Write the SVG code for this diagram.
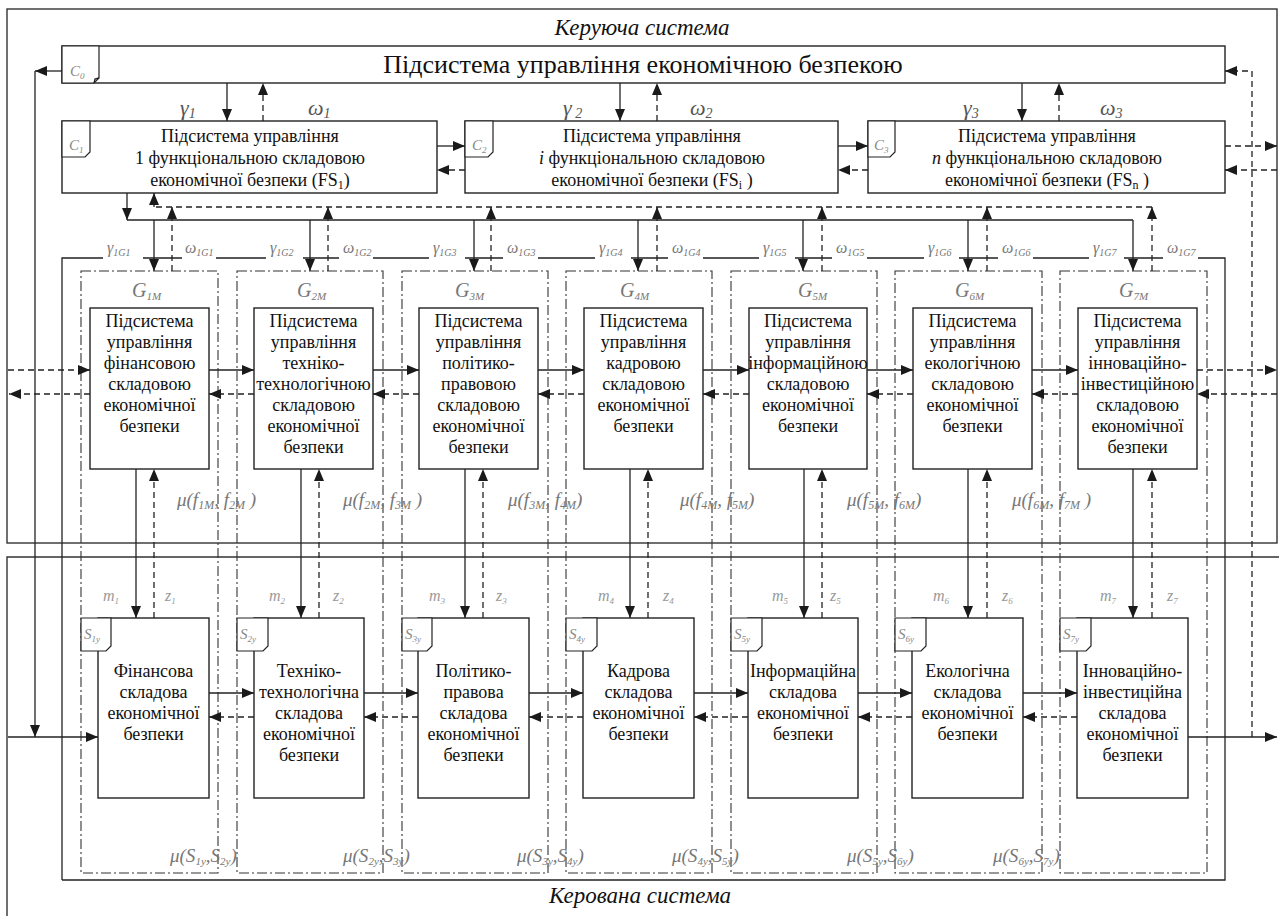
<svg xmlns="http://www.w3.org/2000/svg" width="1279" height="916" viewBox="0 0 1279 916">
<defs>
<marker id="ah" viewBox="0 0 12 10" refX="12" refY="5" markerWidth="12" markerHeight="10" markerUnits="userSpaceOnUse" orient="auto"><path d="M0,0 L12,5 L0,10 Z" fill="#1a1a1a"/></marker>
<style>
.fr{fill:none;stroke:#333;stroke-width:1.4}
.bx{fill:#fff;stroke:#222;stroke-width:1.4}
.tab{fill:#fff;stroke:#222;stroke-width:1.2}
.ln{fill:none;stroke:#222;stroke-width:1.3}
.ds{fill:none;stroke:#222;stroke-width:1.3;stroke-dasharray:6 4}
.dd{fill:none;stroke:#333;stroke-width:1.1;stroke-dasharray:10 3 2 3}
.arr{marker-end:url(#ah)}
.t{font-family:"Liberation Serif","Times New Roman",serif;font-size:18px;fill:#111;text-anchor:middle}
.ttl{font-family:"Liberation Serif","Times New Roman",serif;font-size:26px;fill:#111;text-anchor:middle}
.ti{font-family:"Liberation Serif","Times New Roman",serif;font-style:italic;font-size:23px;fill:#111;text-anchor:middle}
.gk{font-family:"Liberation Serif","Times New Roman",serif;font-style:italic;fill:#555;font-size:22px}
.gs{font-family:"Liberation Serif","Times New Roman",serif;font-style:italic;fill:#777;font-size:16px}
.cl{font-family:"Liberation Serif","Times New Roman",serif;font-style:italic;fill:#888;font-size:15px}
.gm{font-family:"Liberation Serif","Times New Roman",serif;font-style:italic;fill:#777;font-size:20px}
.mz{font-family:"Liberation Serif","Times New Roman",serif;font-style:italic;fill:#999;font-size:16px}
.mu{font-family:"Liberation Serif","Times New Roman",serif;font-style:italic;fill:#777;font-size:19px}
</style>
</defs>

<g id="frames">
<rect class="fr" x="7" y="9" width="1270" height="534"/>
<path class="fr" d="M7,916 V557 H1279"/>
<text class="ti" x="642" y="35">Керуюча система</text>
<text class="ti" x="640" y="903">Керована система</text>
<path class="ln" d="M62,880 V258 H103 M143,258 H182 M216,258 H266 M303,258 H339 M373,258 H429 M465,258 H503 M538,258 H595 M631,258 H668 M703,258 H759 M795,258 H832 M867,258 H924 M959,258 H998 M1033,258 H1089 M1124,258 H1163 M1198,258 H1225 V880 H62"/>
</g>

<g id="C0">
<rect class="bx" x="62" y="46" width="1163" height="37"/>
<path class="tab" d="M62,46 H99 V78 L94,83 H62 Z"/>
<path class="ln" d="M94,83 L95,79 L99,78" stroke-width="1"/>
<text class="cl" x="70" y="76">C<tspan dy="3" font-size="9">0</tspan></text>
<text class="ttl" x="643" y="73">Підсистема управління економічною безпекою</text>
</g>

<g id="C1">
<rect class="bx" x="62" y="121" width="375" height="72"/>
<path class="tab" d="M62,121 H90 V152 L85,157 H62 Z"/>
<text class="cl" x="69" y="150">C<tspan dy="3" font-size="9">1</tspan></text>
<text class="t" x="250" y="142">Підсистема управління</text>
<text class="t" x="250" y="164">1 функціональною складовою</text>
<text class="t" x="250" y="186">економічної безпеки (FS<tspan dy="3" font-size="12">1</tspan><tspan dy="-3">)</tspan></text>
</g>

<g id="C2">
<rect class="bx" x="465" y="121" width="373" height="72"/>
<path class="tab" d="M465,121 H493 V152 L488,157 H465 Z"/>
<text class="cl" x="472" y="150">C<tspan dy="3" font-size="9">2</tspan></text>
<text class="t" x="652" y="142">Підсистема управління</text>
<text class="t" x="652" y="164"><tspan font-style="italic">i</tspan> функціональною складовою</text>
<text class="t" x="652" y="186">економічної безпеки (FS<tspan dy="3" font-size="12">i</tspan><tspan dy="-3"> )</tspan></text>
</g>

<g id="C3">
<rect class="bx" x="868" y="121" width="357" height="72"/>
<path class="tab" d="M868,121 H895 V152 L890,157 H868 Z"/>
<text class="cl" x="874" y="150">C<tspan dy="3" font-size="9">3</tspan></text>
<text class="t" x="1047" y="142">Підсистема управління</text>
<text class="t" x="1047" y="164"><tspan font-style="italic">n</tspan> функціональною складовою</text>
<text class="t" x="1047" y="186">економічної безпеки (FS<tspan dy="3" font-size="12">n</tspan><tspan dy="-3"> )</tspan></text>
</g>

<g id="labels-top">
<text class="gk" x="180" y="115">γ<tspan dy="3" font-size="14">1</tspan></text>
<text class="gk" x="308" y="115">ω<tspan dy="3" font-size="14">1</tspan></text>
<text class="gk" x="563" y="115">γ<tspan dy="3" font-size="14"> 2</tspan></text>
<text class="gk" x="690" y="115">ω<tspan dy="3" font-size="14">2</tspan></text>
<text class="gk" x="963" y="115">γ<tspan dy="3" font-size="14">3</tspan></text>
<text class="gk" x="1100" y="115">ω<tspan dy="3" font-size="14">3</tspan></text>
<text class="gs" x="107" y="253">γ<tspan dy="3" font-size="10">1G1</tspan></text>
<text class="gs" x="185" y="253">ω<tspan dy="3" font-size="10">1G1</tspan></text>
<text class="gs" x="270" y="253">γ<tspan dy="3" font-size="10">1G2</tspan></text>
<text class="gs" x="343" y="253">ω<tspan dy="3" font-size="10">1G2</tspan></text>
<text class="gs" x="433" y="253">γ<tspan dy="3" font-size="10">1G3</tspan></text>
<text class="gs" x="507" y="253">ω<tspan dy="3" font-size="10">1G3</tspan></text>
<text class="gs" x="599" y="253">γ<tspan dy="3" font-size="10">1G4</tspan></text>
<text class="gs" x="672" y="253">ω<tspan dy="3" font-size="10">1G4</tspan></text>
<text class="gs" x="763" y="253">γ<tspan dy="3" font-size="10">1G5</tspan></text>
<text class="gs" x="836" y="253">ω<tspan dy="3" font-size="10">1G5</tspan></text>
<text class="gs" x="928" y="253">γ<tspan dy="3" font-size="10">1G6</tspan></text>
<text class="gs" x="1002" y="253">ω<tspan dy="3" font-size="10">1G6</tspan></text>
<text class="gs" x="1093" y="253">γ<tspan dy="3" font-size="10">1G7</tspan></text>
<text class="gs" x="1167" y="253">ω<tspan dy="3" font-size="10">1G7</tspan></text>
</g>

<g id="G1"><rect class="dd" x="81" y="271" width="137" height="602"/><text class="gm" x="132" y="297">G<tspan dy="3" font-size="11">1M</tspan></text></g>
<g id="G2"><rect class="dd" x="237" y="271" width="146" height="602"/><text class="gm" x="297" y="297">G<tspan dy="3" font-size="11">2M</tspan></text></g>
<g id="G3"><rect class="dd" x="402" y="271" width="146" height="602"/><text class="gm" x="455" y="297">G<tspan dy="3" font-size="11">3M</tspan></text></g>
<g id="G4"><rect class="dd" x="566" y="271" width="146" height="602"/><text class="gm" x="620" y="297">G<tspan dy="3" font-size="11">4M</tspan></text></g>
<g id="G5"><rect class="dd" x="731" y="271" width="146" height="602"/><text class="gm" x="798" y="297">G<tspan dy="3" font-size="11">5M</tspan></text></g>
<g id="G6"><rect class="dd" x="895" y="271" width="147" height="602"/><text class="gm" x="955" y="297">G<tspan dy="3" font-size="11">6M</tspan></text></g>
<g id="G7"><rect class="dd" x="1060" y="271" width="147" height="602"/><text class="gm" x="1119" y="297">G<tspan dy="3" font-size="11">7M</tspan></text></g>

<g id="M1"><rect class="bx" x="90" y="308" width="119" height="161"/>
<text class="t" y="327"><tspan x="149.5">Підсистема</tspan><tspan x="149.5" dy="21">управління</tspan><tspan x="149.5" dy="21">фінансовою</tspan><tspan x="149.5" dy="21">складовою</tspan><tspan x="149.5" dy="21">економічної</tspan><tspan x="149.5" dy="21">безпеки</tspan></text></g>
<g id="M2"><rect class="bx" x="254" y="308" width="119" height="161"/>
<text class="t" y="327"><tspan x="313.5">Підсистема</tspan><tspan x="313.5" dy="21">управління</tspan><tspan x="313.5" dy="21">техніко-</tspan><tspan x="313.5" dy="21">технологічною</tspan><tspan x="313.5" dy="21">складовою</tspan><tspan x="313.5" dy="21">економічної</tspan><tspan x="313.5" dy="21">безпеки</tspan></text></g>
<g id="M3"><rect class="bx" x="419" y="308" width="119" height="161"/>
<text class="t" y="327"><tspan x="478.5">Підсистема</tspan><tspan x="478.5" dy="21">управління</tspan><tspan x="478.5" dy="21">політико-</tspan><tspan x="478.5" dy="21">правовою</tspan><tspan x="478.5" dy="21">складовою</tspan><tspan x="478.5" dy="21">економічної</tspan><tspan x="478.5" dy="21">безпеки</tspan></text></g>
<g id="M4"><rect class="bx" x="584" y="308" width="119" height="161"/>
<text class="t" y="327"><tspan x="643.5">Підсистема</tspan><tspan x="643.5" dy="21">управління</tspan><tspan x="643.5" dy="21">кадровою</tspan><tspan x="643.5" dy="21">складовою</tspan><tspan x="643.5" dy="21">економічної</tspan><tspan x="643.5" dy="21">безпеки</tspan></text></g>
<g id="M5"><rect class="bx" x="749" y="308" width="118" height="161"/>
<text class="t" y="327"><tspan x="808">Підсистема</tspan><tspan x="808" dy="21">управління</tspan><tspan x="808" dy="21">інформаційною</tspan><tspan x="808" dy="21">складовою</tspan><tspan x="808" dy="21">економічної</tspan><tspan x="808" dy="21">безпеки</tspan></text></g>
<g id="M6"><rect class="bx" x="913" y="308" width="119" height="161"/>
<text class="t" y="327"><tspan x="972.5">Підсистема</tspan><tspan x="972.5" dy="21">управління</tspan><tspan x="972.5" dy="21">екологічною</tspan><tspan x="972.5" dy="21">складовою</tspan><tspan x="972.5" dy="21">економічної</tspan><tspan x="972.5" dy="21">безпеки</tspan></text></g>
<g id="M7"><rect class="bx" x="1078" y="308" width="119" height="161"/>
<text class="t" y="327"><tspan x="1137.5">Підсистема</tspan><tspan x="1137.5" dy="21">управління</tspan><tspan x="1137.5" dy="21">інноваційно-</tspan><tspan x="1137.5" dy="21">інвестиційною</tspan><tspan x="1137.5" dy="21">складовою</tspan><tspan x="1137.5" dy="21">економічної</tspan><tspan x="1137.5" dy="21">безпеки</tspan></text></g>

<g id="mu-f">
<text class="mu" x="177" y="506">μ(f<tspan dy="3" font-size="12">1M</tspan><tspan dy="-3">, f</tspan><tspan dy="3" font-size="12">2M</tspan><tspan dy="-3"> )</tspan></text>
<text class="mu" x="343" y="506">μ(f<tspan dy="3" font-size="12">2M</tspan><tspan dy="-3">, f</tspan><tspan dy="3" font-size="12">3M</tspan><tspan dy="-3"> )</tspan></text>
<text class="mu" x="508" y="506">μ(f<tspan dy="3" font-size="12">3M</tspan><tspan dy="-3">, f</tspan><tspan dy="3" font-size="12">4M</tspan><tspan dy="-3">)</tspan></text>
<text class="mu" x="680" y="506">μ(f<tspan dy="3" font-size="12">4M</tspan><tspan dy="-3">, f</tspan><tspan dy="3" font-size="12">5M</tspan><tspan dy="-3">)</tspan></text>
<text class="mu" x="847" y="506">μ(f<tspan dy="3" font-size="12">5M</tspan><tspan dy="-3">, f</tspan><tspan dy="3" font-size="12">6M</tspan><tspan dy="-3">)</tspan></text>
<text class="mu" x="1012" y="506">μ(f<tspan dy="3" font-size="12">6M</tspan><tspan dy="-3">, f</tspan><tspan dy="3" font-size="12">7M</tspan><tspan dy="-3"> )</tspan></text>
</g>

<g id="mz">
<text class="mz" x="103" y="601">m<tspan dy="3" font-size="9">1</tspan></text>
<text class="mz" x="165" y="601">z<tspan dy="3" font-size="9">1</tspan></text>
<text class="mz" x="269" y="601">m<tspan dy="3" font-size="9">2</tspan></text>
<text class="mz" x="333" y="601">z<tspan dy="3" font-size="9">2</tspan></text>
<text class="mz" x="429" y="601">m<tspan dy="3" font-size="9">3</tspan></text>
<text class="mz" x="496" y="601">z<tspan dy="3" font-size="9">3</tspan></text>
<text class="mz" x="598" y="601">m<tspan dy="3" font-size="9">4</tspan></text>
<text class="mz" x="663" y="601">z<tspan dy="3" font-size="9">4</tspan></text>
<text class="mz" x="772" y="601">m<tspan dy="3" font-size="9">5</tspan></text>
<text class="mz" x="830" y="601">z<tspan dy="3" font-size="9">5</tspan></text>
<text class="mz" x="933" y="601">m<tspan dy="3" font-size="9">6</tspan></text>
<text class="mz" x="1002" y="601">z<tspan dy="3" font-size="9">6</tspan></text>
<text class="mz" x="1100" y="601">m<tspan dy="3" font-size="9">7</tspan></text>
<text class="mz" x="1167" y="601">z<tspan dy="3" font-size="9">7</tspan></text>
</g>

<g id="S1"><rect class="bx" x="98" y="618" width="111" height="180"/><path class="tab" d="M81,618 H111 V646 L106,651 H81 Z"/><text class="cl" x="84" y="639" font-size="17">S<tspan dy="3" font-size="9">1y</tspan></text>
<text class="t" y="677"><tspan x="153.5">Фінансова</tspan><tspan x="153.5" dy="21">складова</tspan><tspan x="153.5" dy="21">економічної</tspan><tspan x="153.5" dy="21">безпеки</tspan></text></g>
<g id="S2"><rect class="bx" x="254" y="618" width="110" height="180"/><path class="tab" d="M237,618 H268 V646 L263,651 H237 Z"/><text class="cl" x="240" y="639" font-size="17">S<tspan dy="3" font-size="9">2y</tspan></text>
<text class="t" y="677"><tspan x="309">Техніко-</tspan><tspan x="309" dy="21">технологічна</tspan><tspan x="309" dy="21">складова</tspan><tspan x="309" dy="21">економічної</tspan><tspan x="309" dy="21">безпеки</tspan></text></g>
<g id="S3"><rect class="bx" x="418" y="618" width="111" height="180"/><path class="tab" d="M402,618 H432 V646 L427,651 H402 Z"/><text class="cl" x="405" y="639" font-size="17">S<tspan dy="3" font-size="9">3y</tspan></text>
<text class="t" y="677"><tspan x="473.5">Політико-</tspan><tspan x="473.5" dy="21">правова</tspan><tspan x="473.5" dy="21">складова</tspan><tspan x="473.5" dy="21">економічної</tspan><tspan x="473.5" dy="21">безпеки</tspan></text></g>
<g id="S4"><rect class="bx" x="583" y="618" width="111" height="180"/><path class="tab" d="M566,618 H597 V646 L592,651 H566 Z"/><text class="cl" x="569" y="639" font-size="17">S<tspan dy="3" font-size="9">4y</tspan></text>
<text class="t" y="677"><tspan x="638.5">Кадрова</tspan><tspan x="638.5" dy="21">складова</tspan><tspan x="638.5" dy="21">економічної</tspan><tspan x="638.5" dy="21">безпеки</tspan></text></g>
<g id="S5"><rect class="bx" x="748" y="618" width="110" height="180"/><path class="tab" d="M731,618 H762 V646 L757,651 H731 Z"/><text class="cl" x="734" y="639" font-size="17">S<tspan dy="3" font-size="9">5y</tspan></text>
<text class="t" y="677"><tspan x="803">Інформаційна</tspan><tspan x="803" dy="21">складова</tspan><tspan x="803" dy="21">економічної</tspan><tspan x="803" dy="21">безпеки</tspan></text></g>
<g id="S6"><rect class="bx" x="912" y="618" width="111" height="180"/><path class="tab" d="M895,618 H926 V646 L921,651 H895 Z"/><text class="cl" x="898" y="639" font-size="17">S<tspan dy="3" font-size="9">6y</tspan></text>
<text class="t" y="677"><tspan x="967.5">Екологічна</tspan><tspan x="967.5" dy="21">складова</tspan><tspan x="967.5" dy="21">економічної</tspan><tspan x="967.5" dy="21">безпеки</tspan></text></g>
<g id="S7"><rect class="bx" x="1077" y="618" width="111" height="180"/><path class="tab" d="M1060,618 H1091 V646 L1086,651 H1060 Z"/><text class="cl" x="1063" y="639" font-size="17">S<tspan dy="3" font-size="9">7y</tspan></text>
<text class="t" y="677"><tspan x="1132.5">Інноваційно-</tspan><tspan x="1132.5" dy="21">інвестиційна</tspan><tspan x="1132.5" dy="21">складова</tspan><tspan x="1132.5" dy="21">економічної</tspan><tspan x="1132.5" dy="21">безпеки</tspan></text></g>

<g id="mu-s">
<text class="mu" x="170" y="862">μ(S<tspan dy="3" font-size="11">1y</tspan><tspan dy="-3">,S</tspan><tspan dy="3" font-size="11">2y</tspan><tspan dy="-3">)</tspan></text>
<text class="mu" x="343" y="862">μ(S<tspan dy="3" font-size="11">2y</tspan><tspan dy="-3">,S</tspan><tspan dy="3" font-size="11">3y</tspan><tspan dy="-3">)</tspan></text>
<text class="mu" x="517" y="862">μ(S<tspan dy="3" font-size="11">3y</tspan><tspan dy="-3">,S</tspan><tspan dy="3" font-size="11">4y</tspan><tspan dy="-3">)</tspan></text>
<text class="mu" x="672" y="862">μ(S<tspan dy="3" font-size="11">4y</tspan><tspan dy="-3">,S</tspan><tspan dy="3" font-size="11">5y</tspan><tspan dy="-3">)</tspan></text>
<text class="mu" x="847" y="862">μ(S<tspan dy="3" font-size="11">5y</tspan><tspan dy="-3">,S</tspan><tspan dy="3" font-size="11">6y</tspan><tspan dy="-3">)</tspan></text>
<text class="mu" x="993" y="862">μ(S<tspan dy="3" font-size="11">6y</tspan><tspan dy="-3">,S</tspan><tspan dy="3" font-size="11">7y</tspan><tspan dy="-3">)</tspan></text>
</g>

<g id="connectors">
<path class="ln arr" d="M227,83V121"/>
<path class="ln arr" d="M620,83V121"/>
<path class="ln arr" d="M1022,83V121"/>
<path class="ds arr" d="M263,121V83"/>
<path class="ds arr" d="M657,121V83"/>
<path class="ds arr" d="M1059,121V83"/>
<path class="ln arr" d="M437,146H465"/>
<path class="ln arr" d="M838,146H868"/>
<path class="ds arr" d="M465,170H437"/>
<path class="ds arr" d="M868,170H838"/>
<path class="ds arr" d="M1225,146H1277"/>
<path class="ds arr" d="M1277,170H1225"/>
<path class="ln arr" d="M62,71H35"/>
<path class="ln arr" d="M35,71V737"/>
<path class="ln arr" d="M8,737H98"/>
<path class="ln arr" d="M1188,737H1277"/>
<path class="ds arr" d="M1252,737V71H1225"/>
<path class="ln arr" d="M127,193V220"/>
<path class="ln" d="M127,220H1133"/>
<path class="ln arr" d="M154,220V271"/>
<path class="ln arr" d="M310,220V271"/>
<path class="ln arr" d="M474,220V271"/>
<path class="ln arr" d="M638,220V271"/>
<path class="ln arr" d="M803,220V271"/>
<path class="ln arr" d="M968,220V271"/>
<path class="ln arr" d="M1133,220V271"/>
<path class="ds" d="M156,207H1152"/>
<path class="ds arr" d="M154,207V193"/>
<path class="ds arr" d="M172,271V207"/>
<path class="ds arr" d="M328,271V207"/>
<path class="ds arr" d="M491,271V207"/>
<path class="ds arr" d="M657,271V207"/>
<path class="ds arr" d="M822,271V207"/>
<path class="ds arr" d="M987,271V207"/>
<path class="ds arr" d="M1152,271V207"/>
<path class="ds arr" d="M8,370H90"/>
<path class="ds arr" d="M90,394H9"/>
<path class="ds arr" d="M1197,370H1277"/>
<path class="ds arr" d="M1277,394H1197"/>
<path class="ln arr" d="M209,370H254"/>
<path class="ln arr" d="M373,370H419"/>
<path class="ln arr" d="M538,370H584"/>
<path class="ln arr" d="M703,370H749"/>
<path class="ln arr" d="M867,370H913"/>
<path class="ln arr" d="M1032,370H1078"/>
<path class="ds arr" d="M254,394H209"/>
<path class="ds arr" d="M419,394H373"/>
<path class="ds arr" d="M584,394H538"/>
<path class="ds arr" d="M749,394H703"/>
<path class="ds arr" d="M913,394H867"/>
<path class="ds arr" d="M1078,394H1032"/>
<path class="ln arr" d="M136,469V618"/>
<path class="ln arr" d="M301,469V618"/>
<path class="ln arr" d="M465,469V618"/>
<path class="ln arr" d="M630,469V618"/>
<path class="ln arr" d="M804,469V618"/>
<path class="ln arr" d="M968,469V618"/>
<path class="ln arr" d="M1133,469V618"/>
<path class="ds arr" d="M154,618V469"/>
<path class="ds arr" d="M319,618V469"/>
<path class="ds arr" d="M483,618V469"/>
<path class="ds arr" d="M648,618V469"/>
<path class="ds arr" d="M822,618V469"/>
<path class="ds arr" d="M987,618V469"/>
<path class="ds arr" d="M1152,618V469"/>
<path class="ln arr" d="M209,693H254"/>
<path class="ln arr" d="M364,693H418"/>
<path class="ln arr" d="M529,693H583"/>
<path class="ln arr" d="M694,693H748"/>
<path class="ln arr" d="M858,693H912"/>
<path class="ln arr" d="M1023,693H1077"/>
<path class="ds arr" d="M254,717H209"/>
<path class="ds arr" d="M418,717H364"/>
<path class="ds arr" d="M583,717H529"/>
<path class="ds arr" d="M748,717H694"/>
<path class="ds arr" d="M912,717H858"/>
<path class="ds arr" d="M1077,717H1023"/>
</g>
</svg>
